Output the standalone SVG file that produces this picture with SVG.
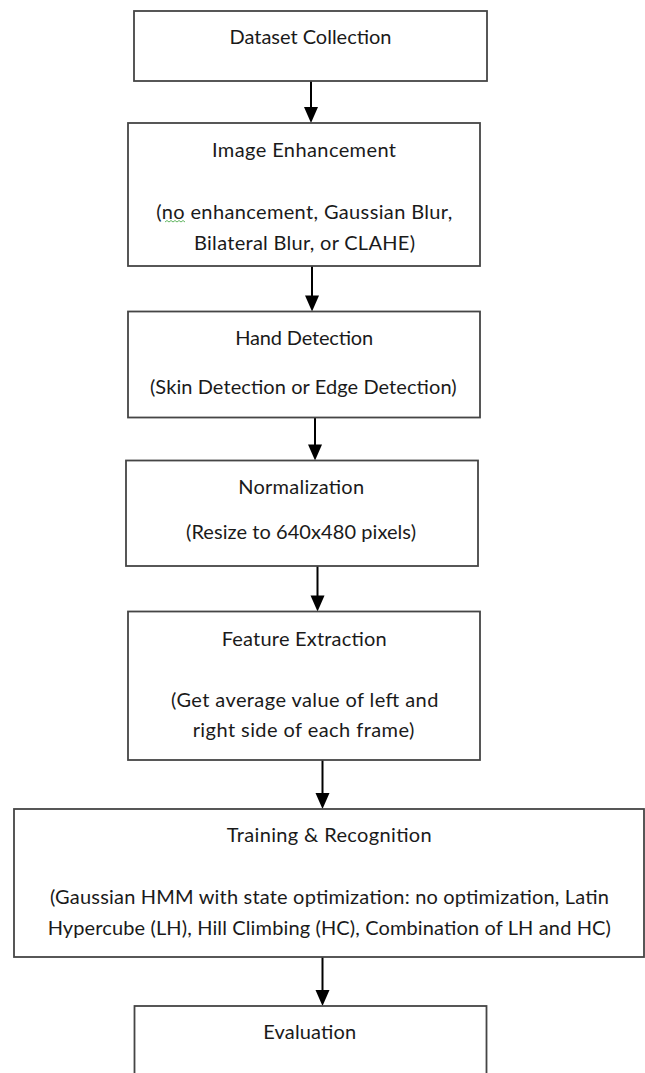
<svg xmlns="http://www.w3.org/2000/svg" width="645" height="1073" viewBox="0 0 645 1073">
<defs>
<style>
.box{fill:#ffffff;stroke:#454545;stroke-width:1.8}
.t{font-family:Lato,"Liberation Sans",sans-serif;font-size:20px;fill:#1a1a1a;text-anchor:middle}
.ln{stroke:#000;stroke-width:2;fill:none}
.hd{fill:#000}
</style>
</defs>
<rect width="645" height="1073" fill="#ffffff"/>
<g id="connectors">
<line class="ln" x1="311" y1="81" x2="311" y2="110"/><polygon class="hd" points="304,107 318,107 311,123"/>
<line class="ln" x1="312" y1="266" x2="312" y2="298"/><polygon class="hd" points="305,295.5 319,295.5 312,311.5"/>
<line class="ln" x1="315" y1="417.5" x2="315" y2="447"/><polygon class="hd" points="308,444.5 322,444.5 315,460.5"/>
<line class="ln" x1="317.5" y1="566" x2="317.5" y2="598"/><polygon class="hd" points="310.5,595.5 324.5,595.5 317.5,611.5"/>
<line class="ln" x1="322.5" y1="760" x2="322.5" y2="796"/><polygon class="hd" points="315.5,793 329.5,793 322.5,809"/>
<line class="ln" x1="322.5" y1="957" x2="322.5" y2="993"/><polygon class="hd" points="315.5,990 329.5,990 322.5,1006"/>
</g>
<g id="dataset-collection">
<rect class="box" x="134" y="11" width="353" height="70"/>
<text class="t" x="310.5" y="44.3" textLength="162">Dataset Collection</text>
</g>
<g id="image-enhancement">
<rect class="box" x="128" y="123" width="352" height="143"/>
<text class="t" x="304" y="157.3" textLength="184">Image Enhancement</text>
<text class="t" x="304.2" y="219" textLength="296">(no enhancement, Gaussian Blur,</text>
<text class="t" x="304.5" y="250" textLength="221">Bilateral Blur, or CLAHE)</text>
<path d="M165,222 l2,-1.5 l2,1.5 l2,-1.5 l2,1.5 l2,-1.5 l2,1.5 l2,-1.5 l2,1.5 l2,-1.5 l2,1.5" fill="none" stroke="#3aa33a" stroke-width="0.8"/>
</g>
<g id="hand-detection">
<rect class="box" x="128" y="311.5" width="352" height="106"/>
<text class="t" x="304.2" y="345" textLength="138">Hand Detection</text>
<text class="t" x="303.3" y="394" textLength="306.7">(Skin Detection or Edge Detection)</text>
</g>
<g id="normalization">
<rect class="box" x="126" y="460.5" width="352" height="105.5"/>
<text class="t" x="301.2" y="494.3" textLength="125.7">Normalization</text>
<text class="t" x="301" y="539.3" textLength="230">(Resize to 640x480 pixels)</text>
</g>
<g id="feature-extraction">
<rect class="box" x="128" y="611.5" width="352" height="148.5"/>
<text class="t" x="304.2" y="645.7" textLength="165">Feature Extraction</text>
<text class="t" x="304.7" y="706.7" textLength="267.3">(Get average value of left and</text>
<text class="t" x="303.5" y="737.3" textLength="221.7">right side of each frame)</text>
</g>
<g id="training-recognition">
<rect class="box" x="14" y="809" width="630" height="148"/>
<text class="t" x="329.2" y="842.3" textLength="205">Training &amp; Recognition</text>
<text class="t" x="329.5" y="904" textLength="559">(Gaussian HMM with state optimization: no optimization, Latin</text>
<text class="t" x="329.3" y="935" textLength="563.3">Hypercube (LH), Hill Climbing (HC), Combination of LH and HC)</text>
</g>
<g id="evaluation">
<rect class="box" x="134.5" y="1006" width="352" height="90"/>
<text class="t" x="309.7" y="1039.3" textLength="92.7">Evaluation</text>
</g>
</svg>
